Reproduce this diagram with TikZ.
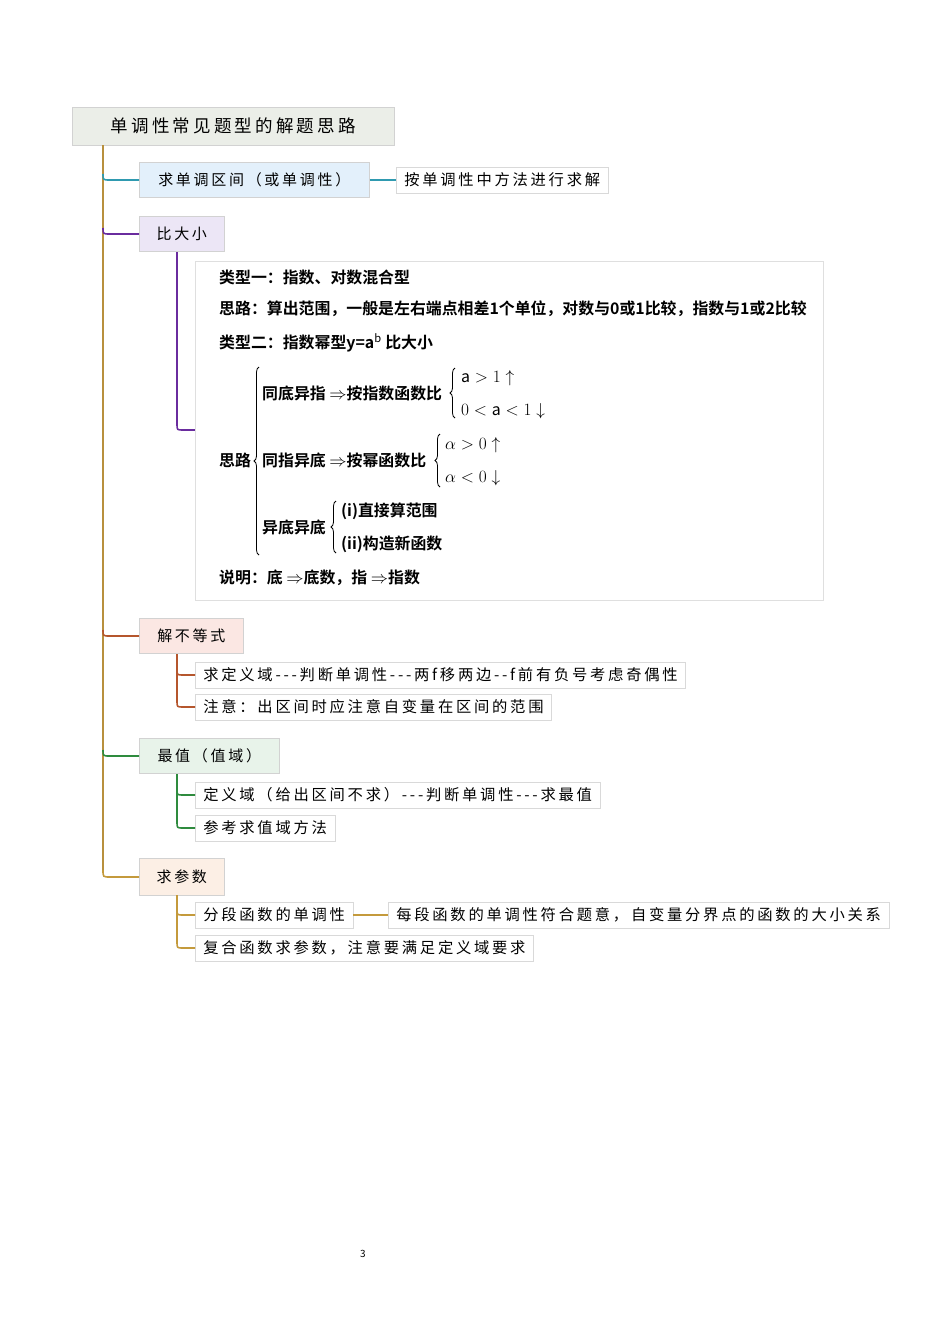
\documentclass[tikz,border=0pt]{standalone}
\usepackage{fontspec}
\setmainfont[LetterSpace=18]{Noto Sans CJK SC}
\newfontfamily\boxcjk[BoldFont={Noto Sans CJK SC Bold}]{Noto Sans CJK SC}
\usetikzlibrary{decorations.pathreplacing}
\definecolor{trunkc}{HTML}{B8903E}
\definecolor{c1}{HTML}{2F9AB0}
\definecolor{c2}{HTML}{6A2C9E}
\definecolor{c3}{HTML}{B5562D}
\definecolor{c4}{HTML}{2E8B3E}
\definecolor{c5}{HTML}{C49A3C}
\newcommand{\dd}{-{}-{}-}
\tikzset{
  branch/.style={draw=gray!35, line width=0.6pt, anchor=west, inner xsep=12pt, font=\fontsize{15}{18}\selectfont},
  leaf/.style={draw=gray!30, fill=white, line width=0.6pt, anchor=west, inner xsep=8pt, inner ysep=4pt, minimum height=26pt, font=\fontsize{15.3}{17}\selectfont},
  conn/.style={line width=1.6pt},
  mt/.style={anchor=west, inner sep=0pt, font=\boxcjk\bfseries\fontsize{15.9}{17}\selectfont},
  brc/.style={decorate, decoration={brace, amplitude=5pt}, line width=0.8pt}
}
\begin{document}
\begin{tikzpicture}[x=1pt,y=-1pt]
\useasboundingbox (0,0) rectangle (950,1344);
% root
\node[draw=gray!35, fill={rgb,255:red,235;green,238;blue,232}, anchor=north west, minimum width=322pt, minimum height=38pt, inner sep=0pt, font=\fontsize{17.5}{20}\selectfont] (root) at (72,107) {单调性常见题型的解题思路};
% branches
\node[branch, fill={rgb,255:red,227;green,240;blue,251}, minimum width=230pt, minimum height=35pt] (b1) at (139,180) {求单调区间（或单调性）};
\node[leaf] (l1) at (396,180) {按单调性中方法进行求解};
\node[branch, fill={rgb,255:red,236;green,230;blue,246}, minimum width=85pt, minimum height=35pt] (b2) at (139,234) {比大小};
\node[branch, fill={rgb,255:red,251;green,231;blue,227}, minimum width=104pt, minimum height=35pt] (b3) at (139,636) {解不等式};
\node[leaf] (l31) at (195,675) {求定义域\dd 判断单调性\dd 两f移两边-{}-f前有负号考虑奇偶性};
\node[leaf] (l32) at (195,707) {注意：出区间时应注意自变量在区间的范围};
\node[branch, fill={rgb,255:red,232;green,243;blue,234}, minimum width=140pt, minimum height=35pt] (b4) at (139,756) {最值（值域）};
\node[leaf] (l41) at (195,795) {定义域（给出区间不求）\dd 判断单调性\dd 求最值};
\node[leaf] (l42) at (195,828) {参考求值域方法};
\node[branch, fill={rgb,255:red,252;green,239;blue,229}, minimum width=85pt, minimum height=37pt] (b5) at (139,877) {求参数};
\node[leaf] (l51) at (195,915) {分段函数的单调性};
\node[leaf] (l52) at (388,915) {每段函数的单调性符合题意，自变量分界点的函数的大小关系};
\node[leaf] (l53) at (195,948) {复合函数求参数，注意要满足定义域要求};
% trunk
\coordinate (t0) at (103,145);
\draw[conn, trunkc] (t0) -- (103,870);
\draw[conn, c1] (103,174) .. controls (103,180) .. (110,180) -- (b1.west);
\draw[conn, c1] (b1.east) -- (l1.west);
\draw[conn, c2] (103,228) .. controls (103,234) .. (110,234) -- (b2.west);
\draw[conn, c3] (103,630) .. controls (103,636) .. (110,636) -- (b3.west);
\draw[conn, c4] (103,750) .. controls (103,756) .. (110,756) -- (b4.west);
\draw[conn, c5] (103,870) .. controls (103,877) .. (110,877) -- (b5.west);
% sub connectors
\draw[conn, c2] (177,252) -- (177,424) .. controls (177,430) .. (183,430) -- (195,430);
\draw[conn, c3] (177,654) -- (177,669) .. controls (177,675) .. (183,675) -- (l31.west);
\draw[conn, c3] (177,669) -- (177,701) .. controls (177,707) .. (183,707) -- (l32.west);
\draw[conn, c4] (177,774) -- (177,789) .. controls (177,795) .. (183,795) -- (l41.west);
\draw[conn, c4] (177,789) -- (177,822) .. controls (177,828) .. (183,828) -- (l42.west);
\draw[conn, c5] (177,895) -- (177,909) .. controls (177,915) .. (183,915) -- (l51.west);
\draw[conn, c5] (177,909) -- (177,942) .. controls (177,948) .. (183,948) -- (l53.west);
\draw[conn, c5] (l51.east) -- (l52.west);
% math box
\node[draw=gray!25, fill=white, anchor=north west, minimum width=628pt, minimum height=339pt, inner sep=0pt] (mb) at (195,261) {};
\node[mt] (m1) at (219,277) {类型一：指数、对数混合型};
\node[mt] (m2) at (219,309) {思路：算出范围，一般是左右端点相差1个单位，对数与0或1比较，指数与1或2比较};
\node[mt] (m3) at (219,343) {类型二：指数幂型y=a$^{\mathrm b}$ 比大小};
\node[mt] (sl) at (219,460) {思路};
\draw[brc] (259,555) -- (259,367);
\node[mt] (r1) at (262,393) {同底异指 $\Rightarrow$按指数函数比};
\draw[brc] (455,418) -- (455,368);
\node[mt] (r11) at (461,378) {$\mathrm a>1\uparrow$};
\node[mt] (r12) at (461,411) {$0<\mathrm a<1\downarrow$};
\node[mt] (r2) at (262,460) {同指异底 $\Rightarrow$按幂函数比};
\draw[brc] (440,487) -- (440,434);
\node[mt] (r21) at (445,445) {$\alpha>0\uparrow$};
\node[mt] (r22) at (445,478) {$\alpha<0\downarrow$};
\node[mt] (r3) at (262,527) {异底异底};
\draw[brc] (336,553) -- (336,501);
\node[mt] (r31) at (341,511) {(i)直接算范围};
\node[mt] (r32) at (341,544) {(ii)构造新函数};
\node[mt] (m4) at (219,578) {说明：底 $\Rightarrow$底数，指 $\Rightarrow$指数};
% page number
\node[font=\fontsize{10}{12}\selectfont] (pg) at (363,1254) {3};
\end{tikzpicture}
\end{document}
